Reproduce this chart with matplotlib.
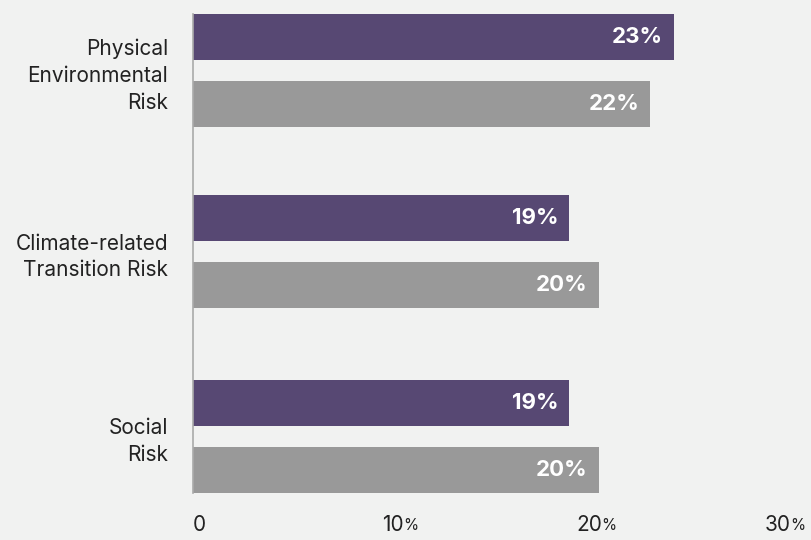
import matplotlib
matplotlib.use('Agg')
import matplotlib.pyplot as plt
import matplotlib.transforms as mtransforms
import numpy as np

plt.rcParams['font.family'] = ['Inter', 'DejaVu Sans']

# 数据
categories = ['Physical\nEnvironmental\nRisk', 'Climate-related\nTransition Risk', 'Social\nRisk']
series_a = [24.3, 19.0, 19.0]   # 紫色
series_b = [23.1, 20.5, 20.5]   # 灰色
labels_a = ['23%', '19%', '19%']
labels_b = ['22%', '20%', '20%']
x_ticks = [0, 10, 20, 30]
x_tick_labels = ['0', '10', '20', '30']

BG = '#f1f2f1'
PURPLE = '#574873'
GRAY = '#999999'
TEXT = '#222222'

W, H = 812, 540
fig = plt.figure(figsize=(W / 100, H / 100), dpi=100, facecolor=BG)
px_per = 19.8
x_max = 31
left, top, bottom = 193, 14, 493
ax = fig.add_axes([left / W, 1 - bottom / H, x_max * px_per / W, (bottom - top) / H])
ax.set_facecolor(BG)

y = np.array([0, 0.99, 2.0])
off = 0.183
h = 0.252
bars_a = ax.barh(y - off, series_a, height=h, color=PURPLE)
bars_b = ax.barh(y + off, series_b, height=h, color=GRAY)

for bars, labs in ((bars_a, labels_a), (bars_b, labels_b)):
    for b, lab in zip(bars, labs):
        ax.annotate(lab, xy=(b.get_width(), b.get_y() + b.get_height() / 2),
                    xytext=(-8, 0), textcoords='offset points',
                    ha='right', va='center', color='white',
                    fontsize=16, fontweight='bold')

ax.set_xlim(0, x_max)
ax.set_ylim(2.309, -0.309)

ax.set_yticks(y)
ax.set_yticklabels(categories, fontsize=15, color=TEXT, linespacing=1.42)
ax.set_xticks(x_ticks)
ax.set_xticklabels(x_tick_labels, fontsize=15, color=TEXT)
ax.tick_params(axis='both', length=0)
ax.tick_params(axis='y', pad=18)
ax.tick_params(axis='x', pad=16)

# 刻度标签微调位置（像素）
shifts = [6, 2, 0, -9]
for t, dx in zip(ax.get_xticklabels(), shifts):
    t.set_transform(t.get_transform() + mtransforms.ScaledTranslation(dx / 100, 0, fig.dpi_scale_trans))

for s in ['top', 'right', 'bottom']:
    ax.spines[s].set_visible(False)
ax.spines['left'].set_color('#aaaaaa')
ax.spines['left'].set_linewidth(1.2)

# 刻度后的小号百分号
fig.canvas.draw()
inv = fig.transFigure.inverted()
for t in ax.get_xticklabels()[1:]:
    bb = t.get_window_extent()
    fx, fy = inv.transform((bb.x1 - 1, bb.y0))
    fig.text(fx, fy + 2.5 / H, '%', fontsize=11, color=TEXT, ha='left', va='bottom')

fig.savefig('out.png', dpi=100, facecolor=BG)
